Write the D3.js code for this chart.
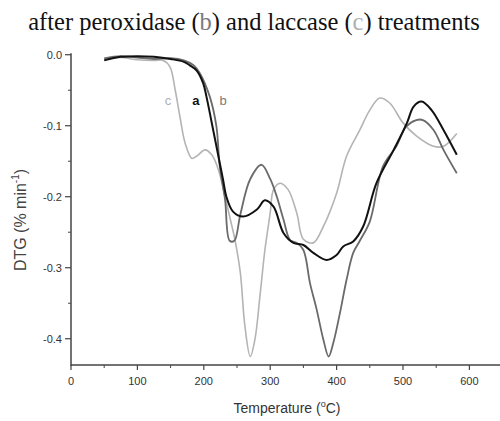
<!DOCTYPE html>
<html><head><meta charset="utf-8">
<script src="https://cdn.jsdelivr.net/npm/d3@7"></script>
<style>body{margin:0;background:#fff}svg{display:block}</style>
</head><body>
<script>
// Data (Temperature °C, DTG %/min)
const tempA = [50,75,100,125,150,170,179,189,199,204,212,219,229,234,244,259,280,292,305,320,335,350,365,385,400,410,425,440,460,486,506,516,528,543,561,581];
const dtgA  = [-0.008,-0.003,-0.002,-0.003,-0.006,-0.010,-0.015,-0.022,-0.040,-0.059,-0.096,-0.129,-0.176,-0.200,-0.221,-0.228,-0.218,-0.205,-0.214,-0.251,-0.265,-0.268,-0.279,-0.289,-0.282,-0.270,-0.263,-0.242,-0.181,-0.134,-0.096,-0.073,-0.066,-0.078,-0.106,-0.141];

const tempB = [50,75,100,125,150,170,185,194,209,219,224,232,239,246,255,270,287,300,310,320,330,340,350,360,370,380,388,395,405,415,425,435,450,470,490,505,520,530,546,561,581];
const dtgB  = [-0.005,-0.002,-0.004,-0.006,-0.005,-0.008,-0.015,-0.026,-0.059,-0.101,-0.157,-0.204,-0.262,-0.262,-0.225,-0.175,-0.155,-0.175,-0.200,-0.232,-0.261,-0.265,-0.275,-0.322,-0.359,-0.401,-0.425,-0.406,-0.364,-0.317,-0.279,-0.262,-0.235,-0.157,-0.129,-0.101,-0.092,-0.092,-0.106,-0.134,-0.167];

const tempC = [50,75,100,125,139,149,157,164,172,182,189,202,212,222,232,240,247,255,262,270,277,285,292,300,305,315,327,340,350,365,380,400,415,435,450,465,480,500,521,546,561,581];
const dtgC  = [-0.006,-0.004,-0.007,-0.008,-0.008,-0.017,-0.050,-0.087,-0.125,-0.146,-0.143,-0.134,-0.141,-0.162,-0.200,-0.232,-0.261,-0.307,-0.383,-0.425,-0.401,-0.336,-0.275,-0.223,-0.190,-0.181,-0.190,-0.223,-0.260,-0.265,-0.242,-0.195,-0.143,-0.106,-0.078,-0.061,-0.068,-0.096,-0.115,-0.129,-0.129,-0.111];

const xTicks = [0,100,200,300,400,500,600];
const yTicks = [0.0,-0.1,-0.2,-0.3,-0.4];

const W = 500, H = 421;
const svg = d3.select("body").append("svg").attr("width", W).attr("height", H);

const x = d3.scaleLinear().domain([0, 650]).range([71, 502.6]);
const y = d3.scaleLinear().domain([0.002, -0.437]).range([53.3, 365]);

// Title
const title = svg.append("text").attr("x", 254).attr("y", 30).attr("text-anchor", "middle")
  .style("font-family", "'Liberation Serif','Times New Roman',serif").style("font-size", "24.5px").attr("fill", "#111");
title.append("tspan").text("after peroxidase (");
title.append("tspan").text("b").attr("fill", "#7a7a7a");
title.append("tspan").text(") and laccase (");
title.append("tspan").text("c").attr("fill", "#b0b0b0");
title.append("tspan").text(") treatments");

const axisColor = "#444";
// X axis
const gx = svg.append("g").attr("transform", `translate(0,${y.range()[1]})`);
gx.append("line").attr("x1", x.range()[0]).attr("x2", x.range()[1]).attr("stroke", axisColor).attr("stroke-width", 1.5);
gx.selectAll(".maj").data(xTicks).join("line").attr("x1", d => x(d)).attr("x2", d => x(d)).attr("y1", 0).attr("y2", 5).attr("stroke", axisColor).attr("stroke-width", 1.2);
gx.selectAll(".min").data(d3.range(50, 650, 100)).join("line").attr("x1", d => x(d)).attr("x2", d => x(d)).attr("y1", 0).attr("y2", 3).attr("stroke", axisColor).attr("stroke-width", 1);
gx.selectAll("text").data(xTicks).join("text").attr("x", d => x(d)).attr("y", 20).attr("text-anchor", "middle")
  .style("font-family", "'Liberation Sans',Arial,sans-serif").style("font-size", "11px").attr("fill", "#333").text(d => d);

// Y axis
const gy = svg.append("g").attr("transform", `translate(${x.range()[0]},0)`);
gy.append("line").attr("y1", y.range()[0]).attr("y2", y.range()[1] + 1).attr("stroke", axisColor).attr("stroke-width", 1.5);
gy.selectAll(".maj").data(yTicks).join("line").attr("x1", -6).attr("x2", 0).attr("y1", d => y(d)).attr("y2", d => y(d)).attr("stroke", axisColor).attr("stroke-width", 1.2);
gy.selectAll(".min").data([-0.05,-0.15,-0.25,-0.35]).join("line").attr("x1", -3).attr("x2", 0).attr("y1", d => y(d)).attr("y2", d => y(d)).attr("stroke", axisColor).attr("stroke-width", 1);
gy.selectAll("text").data(yTicks).join("text").attr("x", -9).attr("y", d => y(d) + 4).attr("text-anchor", "end")
  .style("font-family", "'Liberation Sans',Arial,sans-serif").style("font-size", "11px").attr("fill", "#333").text(d => d.toFixed(1));

// Axis labels
const xl = svg.append("text").attr("x", 287).attr("y", 413).attr("text-anchor", "middle")
  .style("font-family", "'Liberation Sans',Arial,sans-serif").style("font-size", "14px").attr("fill", "#333");
xl.append("tspan").text("Temperature (");
xl.append("tspan").text("o").attr("dy", -6).style("font-size", "9px");
xl.append("tspan").text("C)").attr("dy", 6);

const yl = svg.append("text").attr("transform", `translate(26,220) rotate(-90)`).attr("text-anchor", "middle")
  .style("font-family", "'Liberation Sans',Arial,sans-serif").style("font-size", "16px").attr("fill", "#444");
yl.append("tspan").text("DTG (% min");
yl.append("tspan").text("-1").attr("dy", -7).style("font-size", "10px");
yl.append("tspan").text(")").attr("dy", 7);

// Lines
const line = d3.line().x(d => x(d[0])).y(d => y(d[1])).curve(d3.curveCatmullRom.alpha(0.5));
const series = [
  {t: tempC, v: dtgC, color: "#b4b4b4", w: 1.6},
  {t: tempB, v: dtgB, color: "#6a6a6a", w: 1.8},
  {t: tempA, v: dtgA, color: "#111", w: 2}
];
series.forEach(s => {
  svg.append("path").datum(d3.zip(s.t, s.v)).attr("d", line).attr("fill", "none")
    .attr("stroke", s.color).attr("stroke-width", s.w).attr("stroke-linejoin", "round");
});

// Curve labels
const lbl = [{t: "c", T: 146, v: -0.064, c: "#b0b0b0", fw: "normal"}, {t: "a", T: 188, v: -0.064, c: "#111", fw: "bold"}, {t: "b", T: 229, v: -0.064, c: "#7a7a7a", fw: "normal"}];
svg.selectAll(".lbl").data(lbl).join("text").attr("x", d => x(d.T)).attr("y", d => y(d.v) + 4.5).attr("text-anchor", "middle")
  .style("font-family", "'Liberation Sans',Arial,sans-serif").style("font-size", "13px").style("font-weight", d => d.fw).attr("fill", d => d.c).text(d => d.t);
</script>
</body></html>
